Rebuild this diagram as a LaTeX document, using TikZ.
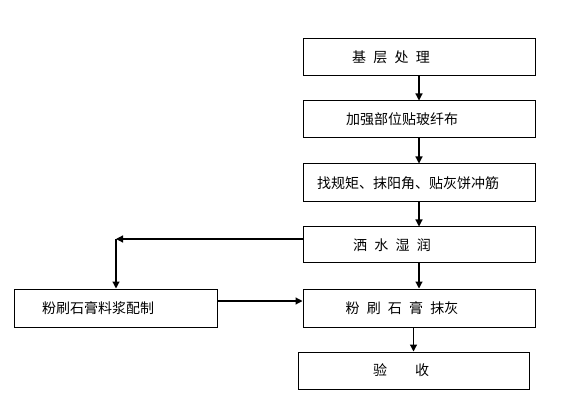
\documentclass[tikz,border=0pt]{standalone}
\usepackage{fontspec}
\usepackage{tikz}
\usetikzlibrary{arrows.meta,positioning}
\newfontfamily\cjk[WordSpace=2.3]{Noto Sans CJK SC}

\begin{document}
\begin{tikzpicture}[
    x=1pt,y=-1pt,
    box/.style={rectangle,draw,line width=1pt,minimum width=232pt,minimum height=37pt,inner sep=0pt},
    txt/.style={inner sep=0pt,font=\cjk\fontsize{14}{16}\selectfont},
    arrow/.style={-{Triangle[length=7pt,width=7pt]},line width=1.2pt}
]
\useasboundingbox (0,0) rectangle (565,398);

\node[box] (base) at (419,57.5) {};
\node[box] (mesh) at (419,119.5) {};
\node[box,minimum height=38pt] (level) at (419,183) {};
\node[box,minimum height=36pt] (wet) at (419,245) {};
\node[box,minimum height=38pt] (plaster) at (419,308) {};
\node[box,minimum width=231pt] (check) at (413.5,370.5) {};
\node[box,minimum width=203pt,minimum height=38pt] (mix) at (115.5,308) {};

\node[txt] (baset) at (391,57.5) {基 层 处 理};
\node[txt] (mesht) at (402,119.5) {加强部位贴玻纤布};
\node[txt] (levelt) at (408,183) {找规矩、抹阳角、贴灰饼冲筋};
\node[txt] (wett) at (392,245) {洒 水 湿 润};
\node[txt] (plastert) at (402,308) {粉 刷 石 膏 抹灰};
\node[txt] (checkt) at (401,370.5) {验　　收};
\node[txt] (mixt) at (98,308) {粉刷石膏料浆配制};

\coordinate (corner) at (116,239);

\draw[arrow] (base) -- (mesh);
\draw[arrow] (mesh) -- (level);
\draw[arrow] (level) -- (wet);
\draw[arrow] (wet) -- (plaster);
\draw[arrow] (plaster.south -| check.north) -- (check.north);
\draw[arrow] (wet.west |- corner) -- (corner);
\draw[arrow] (corner) -- (corner |- mix.north);
\draw[arrow] ([yshift=7pt]mix.east) -- ([yshift=7pt]plaster.west);
\end{tikzpicture}
\end{document}
